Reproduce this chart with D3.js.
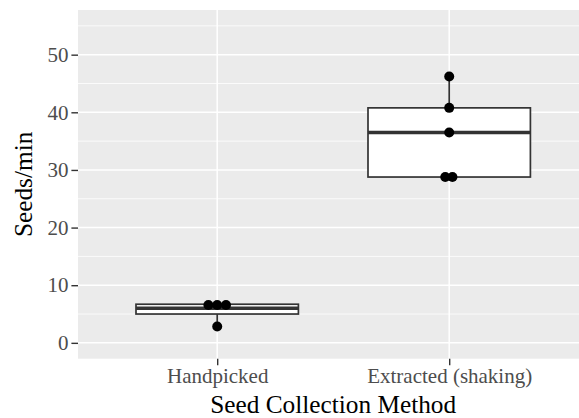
<!DOCTYPE html>
<html>
<head>
<meta charset="utf-8">
<script src="https://cdn.jsdelivr.net/npm/d3@7"></script>
<style>
  html, body { margin: 0; padding: 0; background: #ffffff; }
  svg { display: block; }
  svg text { font-family: "Liberation Serif", "Tinos", "Times New Roman", "DejaVu Serif", serif; }
</style>
</head>
<body>
<script>
// ---- data ----
const categories = ["Handpicked", "Extracted (shaking)"];
const boxQ1 = [5.0, 28.77];
const boxMedian = [6.0, 36.5];
const boxQ3 = [6.7, 40.77];
const whiskerLow = [2.85, 28.77];
const whiskerHigh = [6.7, 46.2];
const pointCategory = ["Handpicked", "Handpicked", "Handpicked", "Handpicked",
  "Extracted (shaking)", "Extracted (shaking)", "Extracted (shaking)", "Extracted (shaking)", "Extracted (shaking)"];
const pointValue = [6.56, 6.56, 6.56, 2.85, 46.2, 40.77, 36.5, 28.77, 28.77];
const pointJitter = [-0.038, 0, 0.038, 0, 0, 0, 0, -0.017, 0.014];
const yTicks = [0, 10, 20, 30, 40, 50];
const yMinor = [5, 15, 25, 35, 45, 55];
const xTitle = "Seed Collection Method";
const yTitle = "Seeds/min";

// ---- layout ----
const W = 579, H = 418;
const panel = { left: 78, top: 10, right: 588.4, bottom: 358.7 };
const boxWidth = 0.7;

const svg = d3.select("body").append("svg").attr("width", W).attr("height", H);

const x = d3.scaleLinear().domain([0.4, categories.length + 0.6]).range([panel.left, panel.right]);
const catIndex = c => categories.indexOf(c) + 1;
const y = d3.scaleLinear().domain([-2.75, 57.75]).range([panel.bottom, panel.top]);

// panel background
svg.append("rect")
  .attr("x", panel.left).attr("y", panel.top)
  .attr("width", panel.right - panel.left).attr("height", panel.bottom - panel.top)
  .attr("fill", "#EBEBEB");

const grid = svg.append("g");
grid.selectAll("line.minor").data(yMinor).join("line")
  .attr("x1", panel.left).attr("x2", panel.right)
  .attr("y1", d => y(d)).attr("y2", d => y(d))
  .attr("stroke", "#ffffff").attr("stroke-width", 0.8);
grid.selectAll("line.majory").data(yTicks).join("line")
  .attr("x1", panel.left).attr("x2", panel.right)
  .attr("y1", d => y(d)).attr("y2", d => y(d))
  .attr("stroke", "#ffffff").attr("stroke-width", 1.5);
grid.selectAll("line.majorx").data(categories).join("line")
  .attr("x1", d => x(catIndex(d))).attr("x2", d => x(catIndex(d)))
  .attr("y1", panel.top).attr("y2", panel.bottom)
  .attr("stroke", "#ffffff").attr("stroke-width", 1.5);

// boxplots
const boxes = svg.append("g");
categories.forEach((c, i) => {
  const cx = x(catIndex(c));
  const x0 = x(catIndex(c) - boxWidth / 2), x1 = x(catIndex(c) + boxWidth / 2);
  const g = boxes.append("g");
  g.append("line").attr("x1", cx).attr("x2", cx)
    .attr("y1", y(boxQ3[i])).attr("y2", y(whiskerHigh[i]))
    .attr("stroke", "#333333").attr("stroke-width", 1.7);
  g.append("line").attr("x1", cx).attr("x2", cx)
    .attr("y1", y(boxQ1[i])).attr("y2", y(whiskerLow[i]))
    .attr("stroke", "#333333").attr("stroke-width", 1.7);
  g.append("rect").attr("x", x0).attr("y", y(boxQ3[i]))
    .attr("width", x1 - x0).attr("height", y(boxQ1[i]) - y(boxQ3[i]))
    .attr("fill", "#ffffff").attr("stroke", "#333333").attr("stroke-width", 1.7);
  g.append("line").attr("x1", x0).attr("x2", x1)
    .attr("y1", y(boxMedian[i])).attr("y2", y(boxMedian[i]))
    .attr("stroke", "#333333").attr("stroke-width", 3.4);
});

// points
svg.append("g").selectAll("circle").data(pointValue).join("circle")
  .attr("cx", (d, i) => x(catIndex(pointCategory[i]) + pointJitter[i]))
  .attr("cy", d => y(d))
  .attr("r", 5)
  .attr("fill", "#000000");

// axes
const yAxis = d3.axisLeft(y).tickValues(yTicks).tickSize(6.6).tickPadding(3);
const ya = svg.append("g").attr("transform", `translate(${panel.left},0)`).call(yAxis)
  .attr("font-family", null).attr("font-size", null);
ya.select(".domain").remove();
ya.selectAll(".tick line").attr("stroke", "#333333").attr("stroke-width", 1.4);
ya.selectAll(".tick text").attr("fill", "#4D4D4D").style("font-size", "21px");

const xAxis = d3.axisBottom(x).tickValues(categories.map(catIndex))
  .tickFormat(d => categories[d - 1]).tickSize(6.6).tickPadding(3);
const xa = svg.append("g").attr("transform", `translate(0,${panel.bottom})`).call(xAxis)
  .attr("font-family", null).attr("font-size", null);
xa.select(".domain").remove();
xa.selectAll(".tick line").attr("stroke", "#333333").attr("stroke-width", 1.4);
xa.selectAll(".tick text").attr("fill", "#4D4D4D").style("font-size", "21px");

// titles
svg.append("text")
  .attr("x", (panel.left + panel.right) / 2).attr("y", 413)
  .attr("text-anchor", "middle")
  .style("font-size", "25.3px").attr("fill", "#000000")
  .text(xTitle);
svg.append("text")
  .attr("transform", `translate(32,${(panel.top + panel.bottom) / 2}) rotate(-90)`)
  .attr("text-anchor", "middle")
  .style("font-size", "25.3px").attr("fill", "#000000")
  .text(yTitle);
</script>
</body>
</html>
